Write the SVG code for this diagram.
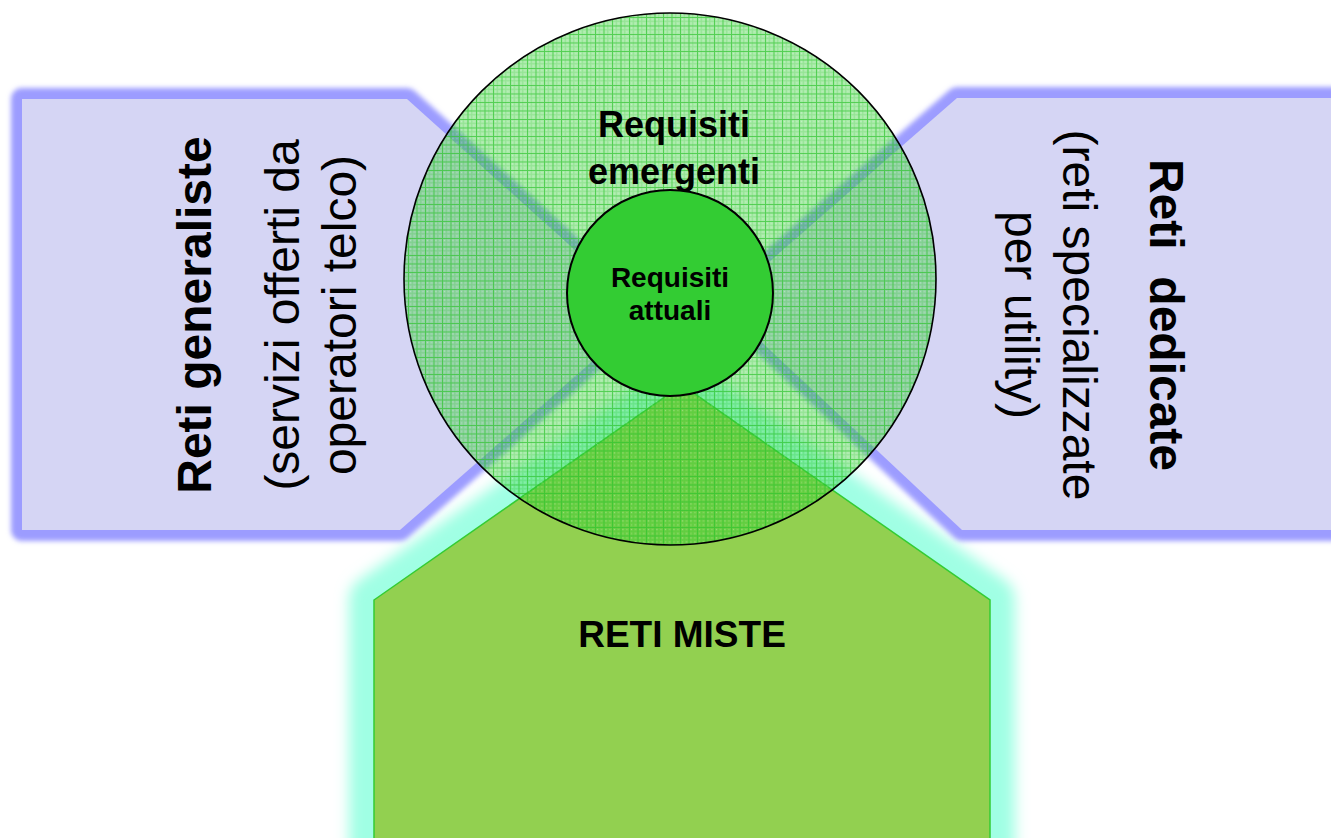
<svg xmlns="http://www.w3.org/2000/svg" width="1331" height="838" viewBox="0 0 1331 838">
  <defs>
    <filter id="softBlue" x="-10%" y="-10%" width="120%" height="120%">
      <feGaussianBlur stdDeviation="2.4"/>
    </filter>
    <filter id="softAqua" x="-20%" y="-20%" width="140%" height="140%">
      <feGaussianBlur stdDeviation="7"/>
    </filter>
    <!-- fine green mesh used by the translucent outer ring -->
    <pattern id="mesh" width="8.5" height="8.5" patternUnits="userSpaceOnUse">
      <rect width="8.5" height="8.5" fill="#33cc33" fill-opacity="0.42"/>
      <path d="M0 4.25H8.5M4.25 0V8.5" stroke="#33cc33" stroke-opacity="0.18" stroke-width="1"/>
      <path d="M0 0.5H8.5M0.5 0V8.5" stroke="#2fc42f" stroke-opacity="0.7" stroke-width="1"/>
      <rect x="2" y="2" width="1" height="1" fill="#ffffff" fill-opacity="0.45"/>
      <rect x="6" y="6" width="1" height="1" fill="#ffffff" fill-opacity="0.45"/>
      <rect x="6" y="2" width="1" height="1" fill="#ffffff" fill-opacity="0.3"/>
      <rect x="2" y="6" width="1" height="1" fill="#ffffff" fill-opacity="0.3"/>
    </pattern>
    <style>
      .side { fill: #d5d5f4; }
      .sideGlow { fill: none; stroke: #9c9cff; stroke-width: 22; stroke-linejoin: round; }
      .mixGlow { fill: none; stroke: #a0ffe4; stroke-width: 50; stroke-linejoin: round; }
      .mix { fill: #92d050; stroke: #33cc33; stroke-width: 1.5; }
      .label { font-family: "Liberation Sans", Arial, sans-serif; fill: #000000; text-anchor: middle; }
      .big { font-size: 48px; }
      .bold { font-weight: bold; }
    </style>
  </defs>

  <rect width="1331" height="838" fill="#ffffff"/>

  <!-- soft aqua halo behind the mixed-networks block -->
  <polygon class="mixGlow" filter="url(#softAqua)" points="374,600 682,385 990,600 990,860 374,860"/>

  <!-- left block: general purpose networks -->
  <g id="node-generaliste">
    <polygon class="sideGlow" filter="url(#softBlue)" points="22,99 407,99 646,314 400,530 22,530"/>
    <polygon class="side" points="22,99 407,99 646,314 400,530 22,530"/>
    <text class="label big bold" transform="translate(211,315) rotate(-90)">Reti generaliste</text>
    <text class="label big" transform="translate(299,315) rotate(-90)">(servizi offerti da</text>
    <text class="label big" transform="translate(356,315) rotate(-90)">operatori telco)</text>
  </g>

  <!-- right block: dedicated networks -->
  <g id="node-dedicate">
    <polygon class="sideGlow" filter="url(#softBlue)" points="1360,98 957,98 721,304 962,530 1360,530"/>
    <polygon class="side" points="1360,98 957,98 721,304 962,530 1360,530"/>
    <text class="label big bold" xml:space="preserve" transform="translate(1150,315) rotate(90)">Reti  dedicate</text>
    <text class="label big" transform="translate(1063,315) rotate(90)">(reti specializzate</text>
    <text class="label big" transform="translate(1005,315) rotate(90)">per utility)</text>
  </g>

  <!-- bottom block: mixed networks -->
  <g id="node-miste">
    <polygon class="mix" points="374,600 682,385 990,600 990,860 374,860"/>
    <text class="label bold" style="font-size:37px" x="682" y="647">RETI MISTE</text>
  </g>

  <!-- translucent outer ring: emerging requirements -->
  <g id="node-emergenti">
    <circle cx="670" cy="279" r="266" fill="url(#mesh)" stroke="#000000" stroke-width="1.6"/>
    <text class="label bold" style="font-size:36px" x="674" y="137">Requisiti</text>
    <text class="label bold" style="font-size:36px" x="674" y="184">emergenti</text>
  </g>

  <!-- solid core: current requirements -->
  <g id="node-attuali">
    <circle cx="670" cy="293" r="103" fill="#33cc33" stroke="#000000" stroke-width="2"/>
    <text class="label bold" style="font-size:28px" x="670" y="287">Requisiti</text>
    <text class="label bold" style="font-size:28px" x="670" y="320">attuali</text>
  </g>

  <g id="connectors"/>
</svg>
